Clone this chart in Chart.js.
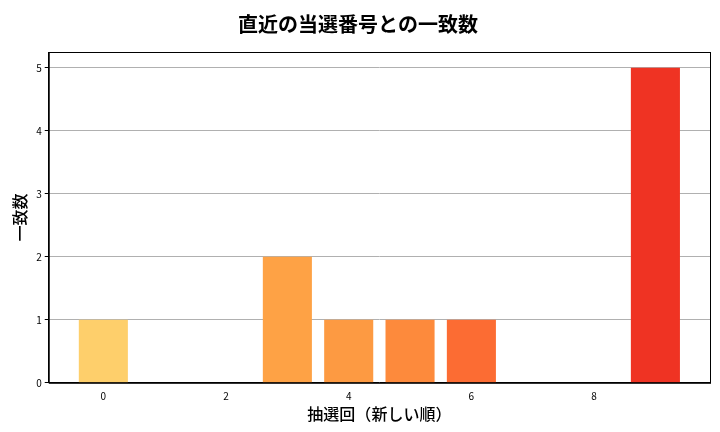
<!DOCTYPE html>
<html><head><meta charset="utf-8">
<script src="https://cdn.jsdelivr.net/npm/chart.js@4"></script>
<style>html,body{margin:0;background:#fff}#wrap{width:720px;height:432px}</style>
</head><body><div id="wrap"><canvas id="c"></canvas></div>
<script>
var draws = [0, 1, 2, 3, 4, 5, 6, 7, 8, 9];
var matches = [1, 0, 0, 2, 1, 1, 1, 0, 0, 5];
var barColors = ["#fecf6b", "#fec25c", "#feb24c", "#fea245", "#fd9a42", "#fd8a3c", "#fc6c33", "#f9552c", "#f54327", "#ef3323"];
var xTicks = [0, 2, 4, 6, 8];
var font = "'Noto Sans CJK JP', 'DejaVu Sans', sans-serif";

new Chart(document.getElementById("c"), {
  type: "bar",
  data: {
    datasets: [{
      data: draws.map(function (d, i) { return { x: d, y: matches[i] }; }),
      backgroundColor: barColors,
      barPercentage: 0.8,
      categoryPercentage: 1.0
    }]
  },
  options: {
    responsive: true, maintainAspectRatio: false, animation: false,
    layout: { padding: { left: 6, right: 10, top: 8, bottom: 4 } },
    plugins: {
      legend: { display: false },
      tooltip: { enabled: false },
      title: { display: true, text: "直近の当選番号との一致数", color: "#000",
        font: { family: font, size: 20, weight: "bold" }, padding: { top: 4, bottom: 16 } }
    },
    scales: {
      x: {
        type: "linear", min: -0.89, max: 9.89, offset: false,
        afterBuildTicks: function (s) { s.ticks = xTicks.map(function (v) { return { value: v }; }); },
        grid: { display: false, drawTicks: true, tickLength: 4 },
        border: { color: "#000" },
        ticks: { color: "#000", font: { family: font, size: 10 }, maxRotation: 0 },
        title: { display: true, text: "抽選回（新しい順）", color: "#000", font: { family: font, size: 16, weight: "500" }, padding: { top: 0 } }
      },
      y: {
        min: 0, max: 5.25,
        afterBuildTicks: function (s) { s.ticks = [0,1,2,3,4,5].map(function (v) { return { value: v }; }); },
        grid: { color: "#b0b0b0", tickColor: "#000", tickLength: 4 },
        border: { color: "#000" },
        ticks: { color: "#000", font: { family: font, size: 10 } },
        title: { display: true, text: "一致数", color: "#000", font: { family: font, size: 16, weight: "500" } }
      }
    }
  },
  plugins: [{
    id: "frame",
    afterDraw: function (ch) {
      var a = ch.chartArea, c = ch.ctx;
      c.save(); c.strokeStyle = "#000"; c.lineWidth = 1;
      c.strokeRect(a.left + 0.5, a.top + 0.5, a.right - a.left, a.bottom - a.top);
      c.restore();
    }
  }]
});
</script></body></html>
